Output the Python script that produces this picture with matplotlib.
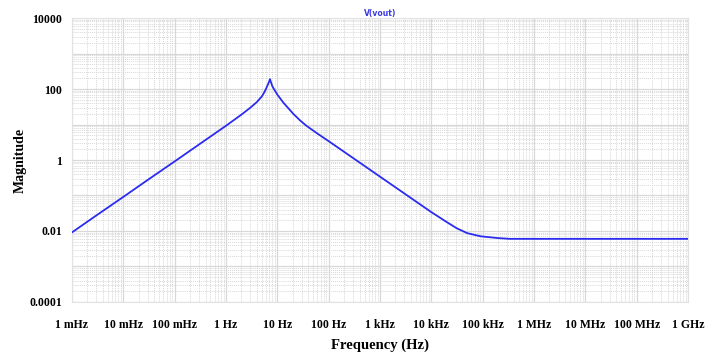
import matplotlib
matplotlib.use('Agg')
import matplotlib.pyplot as plt
from matplotlib.ticker import LogLocator, NullFormatter

# values (Hz, magnitude)
freq_hz = [1e-3, 3e-3, 1e-2, 3e-2, 0.1, 0.3, 1, 2, 3, 4, 5, 5.5, 6, 6.5, 6.9,
           7.2, 7.6, 8.0, 8.6, 10, 13, 20.5, 28, 37, 60, 100, 400, 1e3, 3.4e3,
           1e4, 2e4, 3.1e4, 5e4, 9e4, 2e5, 3.4e5, 1e6, 1e7, 1e8, 1e9]
mag = [0.0091, 0.0275, 0.091, 0.275, 0.91, 2.75, 9.2, 19, 30, 43, 62, 78,
       100, 130, 160, 190, 150, 120, 100, 70, 42, 20, 12.9, 9.2, 5.6, 3.4,
       0.85, 0.34, 0.1, 0.034, 0.0178, 0.012, 0.0087, 0.0071, 0.0063, 0.006,
       0.006, 0.006, 0.006, 0.006]

xtick_pos = [1e-3, 1e-2, 1e-1, 1, 10, 100, 1e3, 1e4, 1e5, 1e6, 1e7, 1e8, 1e9]
xtick_lab = ['1 mHz', '10 mHz', '100 mHz', '1 Hz', '10 Hz', '100 Hz', '1 kHz',
             '10 kHz', '100 kHz', '1 MHz', '10 MHz', '100 MHz', '1 GHz']
ytick_pos = [1e-4, 1e-3, 1e-2, 1e-1, 1, 10, 100, 1e3, 1e4]
ytick_lab = ['0.0001', '', '0.01', '', '1', '', '100', '', '10000']

serif = {'family': 'Liberation Serif', 'weight': 'bold'}

fig = plt.figure(figsize=(7.05, 3.54), dpi=100)
ax = fig.add_axes([0.102, 0.147, 0.874, 0.802])

ax.plot(freq_hz, mag, color='#2b2bf0', lw=1.3, zorder=3)
ax.set_xscale('log')
ax.set_yscale('log')
ax.set_xlim(1e-3, 1e9)
ax.set_ylim(1e-4, 1e4)

ax.set_xticks(xtick_pos)
ax.set_xticklabels(xtick_lab, fontdict=serif, fontsize=8.5)
ax.xaxis.set_minor_locator(LogLocator(base=10, subs=range(2, 10), numticks=100))
ax.xaxis.set_minor_formatter(NullFormatter())

ax.set_yticks(ytick_pos)
ax.set_yticklabels(ytick_lab, fontdict=serif, fontsize=8.5)
ax.yaxis.set_minor_locator(LogLocator(base=10, subs=range(2, 10), numticks=100))
ax.yaxis.set_minor_formatter(NullFormatter())

ax.tick_params(which='both', length=0)
ax.tick_params(axis='x', pad=12)
ax.tick_params(axis='y', pad=7)

ax.grid(which='major', color='#d8d8d8', lw=0.9, ls='-')
ax.grid(which='minor', color='#d8d8d8', lw=0.7, ls=(0, (1, 1)))
for s in ax.spines.values():
    s.set_color('#e2e2e2')
    s.set_linewidth(0.8)

ax.set_title('V(vout)', color='#3a3ae0', fontsize=5.5, fontweight='bold',
             family='DejaVu Sans', pad=1.5)
ax.set_xlabel('Frequency (Hz)', fontdict=serif, fontsize=10.5, labelpad=6)
fig.text(20 / 705, 1 - 160 / 354, 'Magnitude', rotation=90, ha='center',
         va='center', fontdict=serif, fontsize=10)

fig.savefig('out.png', dpi=100)
